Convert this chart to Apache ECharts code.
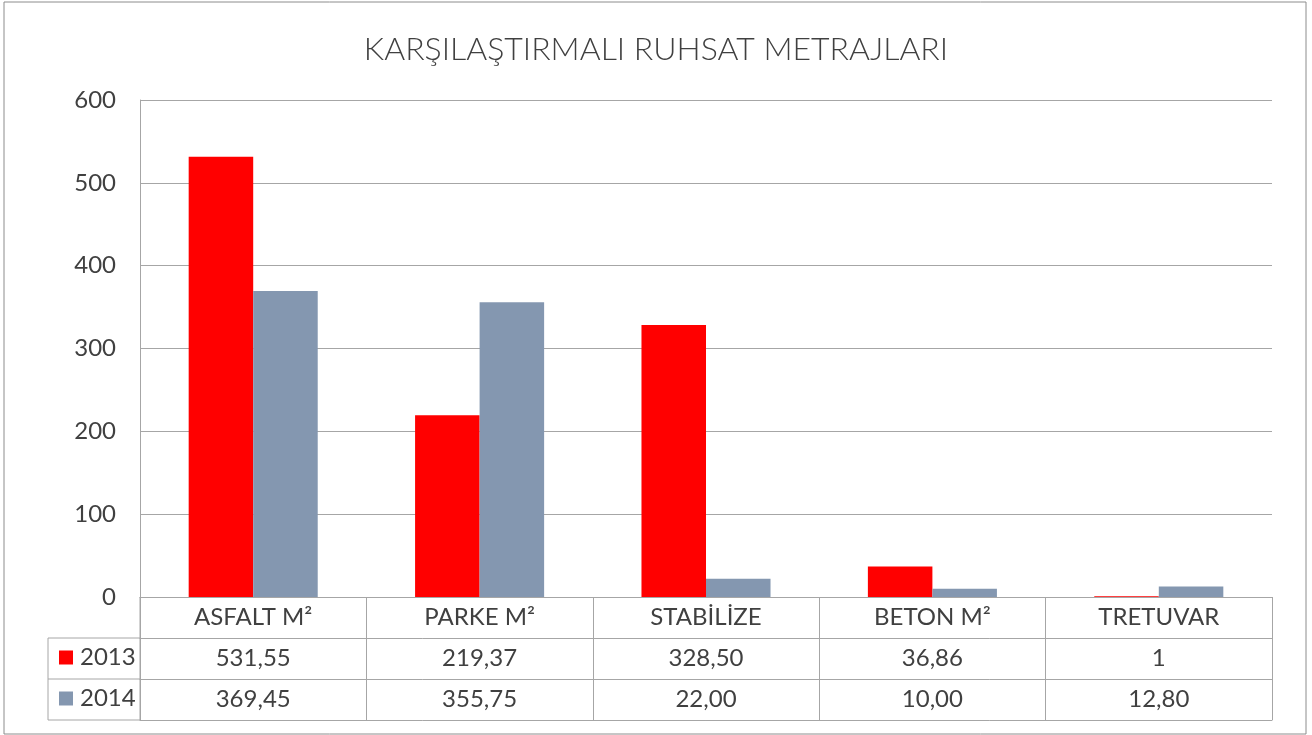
<!DOCTYPE html>
<html>
<head>
<meta charset="utf-8">
<script src="https://cdn.jsdelivr.net/npm/echarts@6/dist/echarts.min.js"></script>
<style>
html,body{margin:0;padding:0;background:#fff;}
#chart{width:1312px;height:735px;}
</style>
</head>
<body>
<div id="chart"></div>
<script>
// ---- data ----
const titleText = 'KARŞILAŞTIRMALI RUHSAT METRAJLARI';
const categories = ['ASFALT M²', 'PARKE M²', 'STABİLİZE', 'BETON M²', 'TRETUVAR'];
const seriesNames = ['2013', '2014'];
const values2013 = [531.55, 219.37, 328.50, 36.86, 1];
const values2014 = [369.45, 355.75, 22.00, 10.00, 12.80];
const labels2013 = ['531,55', '219,37', '328,50', '36,86', '1'];
const labels2014 = ['369,45', '355,75', '22,00', '10,00', '12,80'];
const yTicks = [0, 100, 200, 300, 400, 500, 600];

// ---- layout / style ----
const FONT = 'Lato';
const FS = 24;
const TXT = '#404040';
const LINE = '#a6a6a6';
const gridLeft = 140, gridRight = 40, gridTop = 100, gridBottom = 138;
const rowH = 41;
const legendLeftX = 48;
const W = 1312, H = 735;
const axisBottomY = H - gridBottom;

const chart = echarts.init(document.getElementById('chart'), null, {renderer: 'canvas'});

function rowAxis(data, offset, showLabel, showTick) {
  return {
    type: 'category', data: data, position: 'bottom', offset: offset, gridIndex: 0,
    axisLine: {show: true, lineStyle: {color: LINE, width: 1}},
    axisTick: {show: showTick, length: rowH, inside: false, alignWithLabel: false, lineStyle: {color: LINE, width: 1}},
    axisLabel: {show: showLabel, margin: rowH / 2, verticalAlign: 'middle', fontFamily: FONT, fontSize: FS, color: TXT, interval: 0},
    splitLine: {show: false}
  };
}

function legendRow(name, rowIdx) {
  return {
    data: [name], orient: 'horizontal', left: 59,
    top: axisBottomY + rowH * rowIdx + rowH / 2 - FS / 2 - 1,
    icon: 'rect', itemWidth: 14, itemHeight: 14, itemGap: 0,
    textStyle: {fontFamily: FONT, fontSize: FS, color: TXT, padding: [0, 0, 0, 2]},
    padding: 0
  };
}

const graphics = [
  {type: 'rect', shape: {x: 4, y: 2, width: W - 10, height: H - 3}, style: {fill: 'none', stroke: '#8c8c8c', lineWidth: 1}, silent: true}
];
for (let i = 1; i <= 3; i++) {
  graphics.push({type: 'line', shape: {x1: legendLeftX, y1: axisBottomY + rowH * i, x2: gridLeft, y2: axisBottomY + rowH * i}, style: {stroke: LINE, lineWidth: 1}, silent: true});
}
graphics.push({type: 'line', shape: {x1: legendLeftX, y1: axisBottomY + rowH, x2: legendLeftX, y2: axisBottomY + rowH * 3}, style: {stroke: LINE, lineWidth: 1}, silent: true});
graphics.push({type: 'line', shape: {x1: gridLeft, y1: axisBottomY, x2: gridLeft, y2: axisBottomY + rowH * 3}, style: {stroke: LINE, lineWidth: 1}, silent: true});

const option = {
  backgroundColor: '#ffffff',
  animation: false,
  title: {
    text: titleText, left: 'center', top: 29,
    textStyle: {fontFamily: FONT, fontWeight: 300, fontSize: 32, color: TXT}
  },
  legend: [legendRow(seriesNames[0], 1), legendRow(seriesNames[1], 2)],
  grid: {left: gridLeft, right: gridRight, top: gridTop, bottom: gridBottom, containLabel: false},
  xAxis: [
    rowAxis(categories, 0, true, true),
    rowAxis(labels2013, rowH, true, true),
    rowAxis(labels2014, rowH * 2, true, true),
    rowAxis(categories, rowH * 3, false, false)
  ],
  yAxis: {
    type: 'value', min: yTicks[0], max: yTicks[yTicks.length - 1], interval: 100,
    axisLine: {show: true, lineStyle: {color: LINE}},
    axisTick: {show: false},
    axisLabel: {margin: 24, fontFamily: FONT, fontSize: FS, color: TXT},
    splitLine: {show: true, lineStyle: {color: LINE, width: 1}}
  },
  series: [
    {name: seriesNames[0], type: 'bar', xAxisIndex: 0, data: values2013, barGap: '0%', barCategoryGap: '43%', itemStyle: {color: '#ff0000'}},
    {name: seriesNames[1], type: 'bar', xAxisIndex: 0, data: values2014, barGap: '0%', barCategoryGap: '43%', itemStyle: {color: '#8497b0'}}
  ],
  graphic: graphics
};
chart.setOption(option);
</script>
</body>
</html>
